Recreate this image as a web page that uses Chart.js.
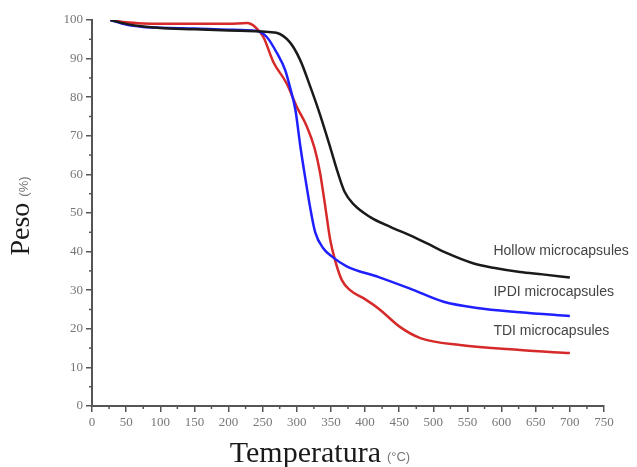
<!DOCTYPE html>
<html>
<head>
<meta charset="utf-8">
<script src="https://cdn.jsdelivr.net/npm/chart.js@4.4.1/dist/chart.umd.min.js"></script>
<style>
  html, body { margin: 0; padding: 0; background: #fff; }
  #wrap { width: 637px; height: 467px; }
</style>
</head>
<body>
<div id="wrap"><canvas id="chart" width="637" height="467"></canvas></div>
<script>
// Temperature (°C) / weight (%)
const hollowX = [27, 50, 75, 100, 150, 200, 250, 270, 290, 305, 320, 334, 349, 360, 370, 383, 407, 437, 466, 490, 520, 558, 588, 627, 660, 700];
const hollowY = [100, 99, 98.3, 97.9, 97.6, 97.3, 97, 96.7, 94.2, 89.6, 82.6, 75.5, 67, 60.5, 55.5, 52.3, 49, 46.4, 44.2, 42.2, 39.6, 37, 35.8, 34.7, 34.1, 33.3];

const ipdiX = [27, 50, 75, 100, 150, 200, 240, 256, 271, 283, 290, 298, 305, 312, 320, 327, 339, 353, 373, 420, 466, 515, 564, 627, 700];
const ipdiY = [100, 98.8, 98.2, 98, 97.8, 97.5, 97.2, 95.6, 91.4, 87, 82.6, 76.7, 67.5, 59.5, 51, 45, 40.8, 38.5, 36.2, 33.4, 30.4, 27, 25.4, 24.3, 23.3];

const tdiX = [27, 50, 75, 100, 150, 200, 227, 239, 251, 266, 285, 300, 315, 326, 334, 341, 349, 356, 366, 378, 397, 420, 451, 481, 539, 627, 700];
const tdiY = [100, 99.4, 99.1, 99, 99, 99, 99.2, 98.2, 95.6, 89, 83.6, 77.5, 72.3, 66.8, 60.5, 52.5, 43, 37.8, 32.6, 30, 28, 25.2, 20.5, 17.6, 15.8, 14.5, 13.7];

const seriesNames = ["Hollow microcapsules", "IPDI microcapsules", "TDI microcapsules"];
const seriesColors = ["#1a1a1a", "#1f1fff", "#d62a2a"];

const xMin = 0, xMax = 750, xStep = 50;
const yMin = 0, yMax = 100, yStep = 10;

function zip(xs, ys) {
  return xs.map((x, i) => ({ x: x, y: ys[i] }));
}

// minor ticks and axis titles / curve labels
const extras = {
  id: "extras",
  afterDraw(chart) {
    const ctx = chart.ctx;
    const xs = chart.scales.x, ys = chart.scales.y;
    const area = chart.chartArea;

    ctx.save();
    ctx.strokeStyle = "#555";
    ctx.lineWidth = 1.5;
    for (let v = xMin + xStep / 2; v < xMax; v += xStep) {
      const px = xs.getPixelForValue(v);
      ctx.beginPath();
      ctx.moveTo(px, area.bottom);
      ctx.lineTo(px, area.bottom + 3);
      ctx.stroke();
    }
    for (let v = yMin + yStep / 2; v < yMax; v += yStep) {
      const py = ys.getPixelForValue(v);
      ctx.beginPath();
      ctx.moveTo(area.left - 3, py);
      ctx.lineTo(area.left, py);
      ctx.stroke();
    }

    // curve labels
    ctx.font = "14px 'Liberation Sans', Arial, sans-serif";
    ctx.fillStyle = "#444";
    ctx.textBaseline = "middle";
    ctx.textAlign = "left";
    const labelY = [40.2, 29.5, 19.4];
    seriesNames.forEach((name, i) => {
      ctx.fillText(name, xs.getPixelForValue(588), ys.getPixelForValue(labelY[i]));
    });

    // x title
    const bigFont = "30px 'Liberation Serif', 'Times New Roman', serif";
    const pesoFont = "28px 'Liberation Serif', 'Times New Roman', serif";
    const smallFont = "13px 'Liberation Sans', Arial, sans-serif";
    ctx.font = bigFont;
    const t1 = "Temperatura";
    const w1 = ctx.measureText(t1).width;
    ctx.font = smallFont;
    const t2 = "(°C)";
    const w2 = ctx.measureText(t2).width;
    let sx = 320 - (w1 + 6 + w2) / 2;
    ctx.font = bigFont;
    ctx.fillStyle = "#1a1a1a";
    ctx.fillText(t1, sx, 454);
    ctx.font = smallFont;
    ctx.fillStyle = "#777";
    ctx.fillText(t2, sx + w1 + 6, 457);

    // y title
    ctx.translate(22, 216);
    ctx.rotate(-Math.PI / 2);
    ctx.font = pesoFont;
    const p1 = "Peso";
    const pw1 = ctx.measureText(p1).width;
    ctx.font = smallFont;
    const p2 = "(%)";
    const pw2 = ctx.measureText(p2).width;
    sx = -(pw1 + 6 + pw2) / 2;
    ctx.font = pesoFont;
    ctx.fillStyle = "#1a1a1a";
    ctx.fillText(p1, sx, 0);
    ctx.font = smallFont;
    ctx.fillStyle = "#777";
    ctx.fillText(p2, sx + pw1 + 6, 2);
    ctx.restore();
  }
};

const tickFont = { family: "'Liberation Serif', 'Times New Roman', serif", size: 13 };

new Chart(document.getElementById("chart"), {
  type: "line",
  data: {
    datasets: [
      { label: seriesNames[0], data: zip(hollowX, hollowY), borderColor: seriesColors[0] },
      { label: seriesNames[1], data: zip(ipdiX, ipdiY), borderColor: seriesColors[1] },
      { label: seriesNames[2], data: zip(tdiX, tdiY), borderColor: seriesColors[2] }
    ].map(d => Object.assign(d, {
      borderWidth: 2.5,
      pointRadius: 0,
      fill: false,
      cubicInterpolationMode: "monotone"
    }))
  },
  options: {
    responsive: false,
    animation: false,
    layout: { padding: { left: 0, top: 20, right: 33, bottom: 0 } },
    plugins: { legend: { display: false }, tooltip: { enabled: false } },
    scales: {
      x: {
        type: "linear",
        min: xMin,
        max: xMax,
        afterFit: s => { s.height = 61; },
        ticks: { stepSize: xStep, color: "#777", font: tickFont, padding: 3, maxRotation: 0, autoSkip: false },
        grid: { drawOnChartArea: false, tickLength: 6, color: "#555", lineWidth: 1.5 },
        border: { color: "#555", width: 2 }
      },
      y: {
        min: yMin,
        max: yMax,
        afterFit: s => { s.width = 92; },
        ticks: { stepSize: yStep, color: "#777", font: tickFont, padding: 3 },
        grid: { drawOnChartArea: false, tickLength: 6, color: "#555", lineWidth: 1.5 },
        border: { color: "#555", width: 2 }
      }
    }
  },
  plugins: [extras]
});
</script>
</body>
</html>
